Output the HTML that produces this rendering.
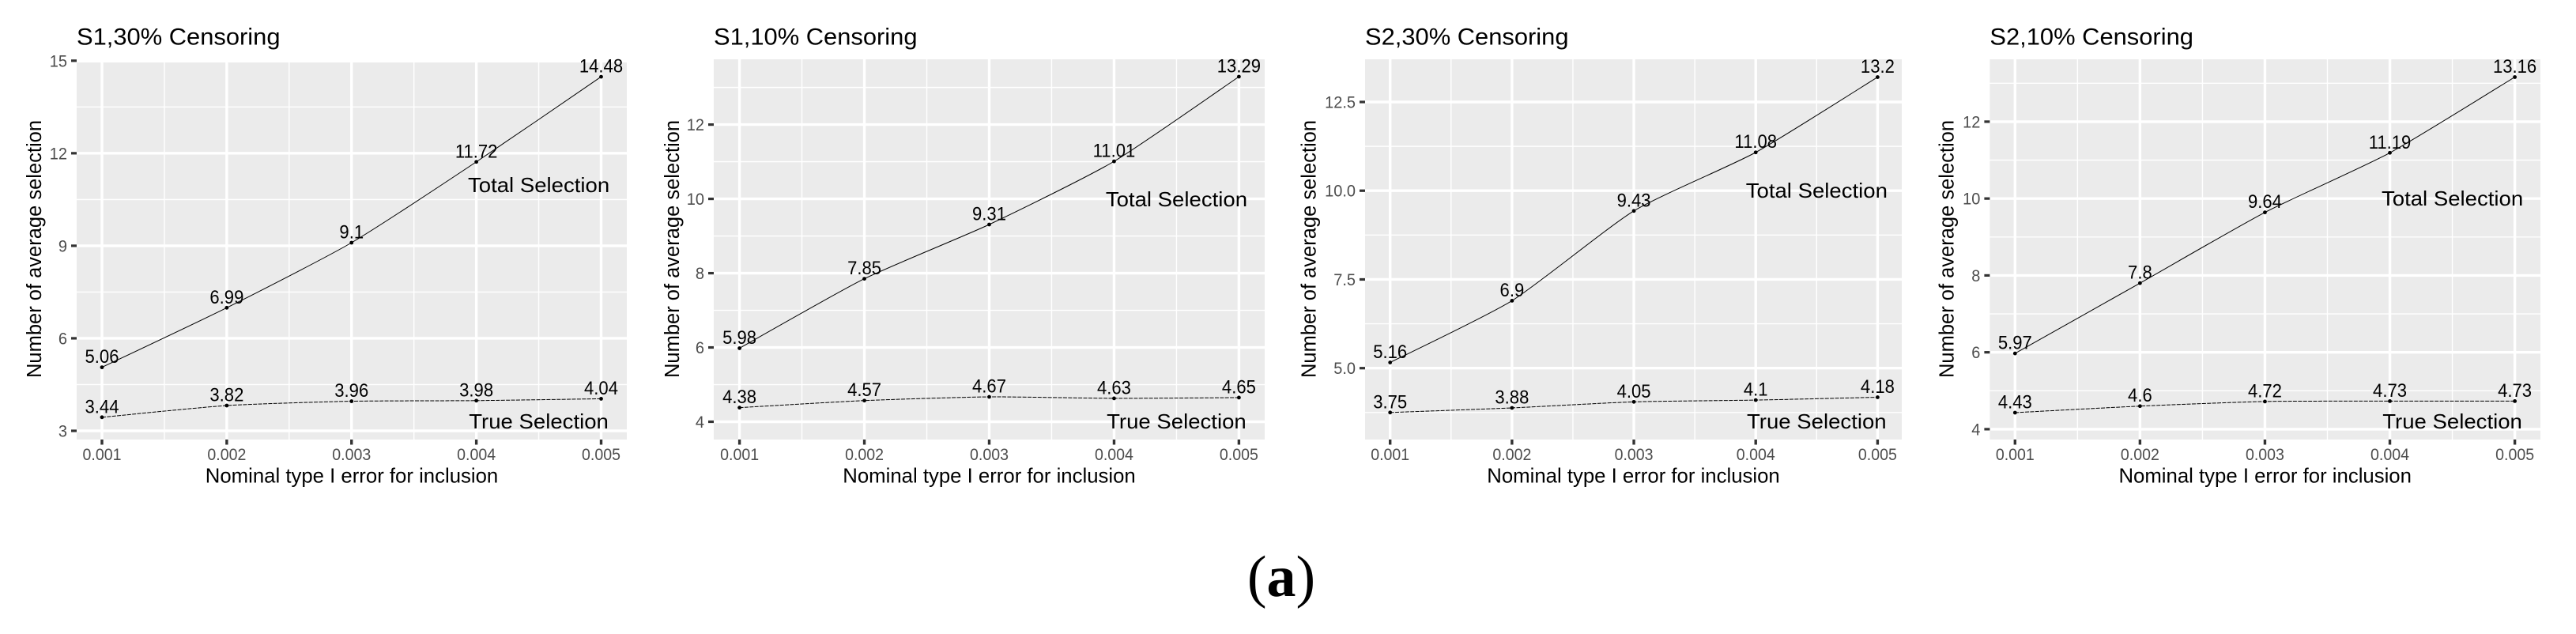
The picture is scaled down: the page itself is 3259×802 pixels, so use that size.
<!DOCTYPE html>
<html lang="en">
<head>
<meta charset="utf-8">
<title>Average selection versus nominal type I error</title>
<style>
html,body{margin:0;padding:0;background:#fff;width:3259px;height:802px;overflow:hidden}
svg{display:block}
text{font-family:"Liberation Sans",sans-serif}
</style>
</head>
<body>
<svg id="figure" xmlns="http://www.w3.org/2000/svg" width="3259" height="802" viewBox="0 0 3259 802">
  <text x="1621" y="754" text-anchor="middle" font-size="74" style="font-family:'Liberation Serif',serif">(<tspan font-weight="bold">a</tspan>)</text>
</svg>
<script>
const categories = [0.001, 0.002, 0.003, 0.004, 0.005];
const xTickLabels = ["0.001", "0.002", "0.003", "0.004", "0.005"];

const s1c30Total = [5.06, 6.99, 9.1, 11.72, 14.48];
const s1c30True = [3.44, 3.82, 3.96, 3.98, 4.04];
const s1c10Total = [5.98, 7.85, 9.31, 11.01, 13.29];
const s1c10True = [4.38, 4.57, 4.67, 4.63, 4.65];
const s2c30Total = [5.16, 6.9, 9.43, 11.08, 13.2];
const s2c30True = [3.75, 3.88, 4.05, 4.1, 4.18];
const s2c10Total = [5.97, 7.8, 9.64, 11.19, 13.16];
const s2c10True = [4.43, 4.6, 4.72, 4.73, 4.73];

const s1c30YTicks = ["3", "6", "9", "12", "15"];
const s1c10YTicks = ["4", "6", "8", "10", "12"];
const s2c30YTicks = ["5.0", "7.5", "10.0", "12.5"];
const s2c10YTicks = ["4", "6", "8", "10", "12"];

const panels = [
  {key:'s1-30', title:'S1,30% Censoring', total:s1c30Total, truth:s1c30True, yTicks:s1c30YTicks,
   left:97, right:793, top:79, bottom:556, xFirst:129, xLast:760.5,
   lowTickPx:545, highTickPx:76.8, yLabelX:52, totalBase:243},
  {key:'s1-10', title:'S1,10% Censoring', total:s1c10Total, truth:s1c10True, yTicks:s1c10YTicks,
   left:903, right:1600, top:75, bottom:556, xFirst:935.6, xLast:1567.4,
   lowTickPx:533.5, highTickPx:157.6, yLabelX:859, totalBase:261},
  {key:'s2-30', title:'S2,30% Censoring', total:s2c30Total, truth:s2c30True, yTicks:s2c30YTicks,
   left:1727, right:2406, top:75, bottom:556, xFirst:1758.7, xLast:2375.4,
   lowTickPx:465.7, highTickPx:129, yLabelX:1664.6, totalBase:250},
  {key:'s2-10', title:'S2,10% Censoring', total:s2c10Total, truth:s2c10True, yTicks:s2c10YTicks,
   left:2517.4, right:3214, top:75, bottom:556, xFirst:2549.3, xLast:3181.6,
   lowTickPx:542.9, highTickPx:153.9, yLabelX:2471.4, totalBase:260}
];

const NS = 'http://www.w3.org/2000/svg';
const root = document.getElementById('figure');

function shape(parent, tag, attrs) {
  const el = document.createElementNS(NS, tag);
  for (const k in attrs) el.setAttribute(k, attrs[k]);
  parent.appendChild(el);
  return el;
}

function label(parent, str, x, y, size, fill, anchor, sx, rotate) {
  const el = document.createElementNS(NS, 'text');
  el.textContent = str;
  el.setAttribute('font-size', size);
  el.setAttribute('fill', fill);
  el.setAttribute('text-anchor', anchor);
  el.setAttribute('transform', 'translate(' + x + ',' + y + ')' + (rotate ? ' rotate(' + rotate + ')' : '') + ' scale(' + sx + ',1)');
  parent.appendChild(el);
  return el;
}

function smoothPath(pts) {
  const k = 0.1;
  let d = 'M' + pts[0][0].toFixed(2) + ' ' + pts[0][1].toFixed(2);
  for (let i = 0; i < pts.length - 1; i++) {
    const a = pts[Math.max(i - 1, 0)];
    const b = pts[i];
    const c = pts[i + 1];
    const e = pts[Math.min(i + 2, pts.length - 1)];
    const c1x = b[0] + (c[0] - a[0]) * k;
    const c1y = b[1] + (c[1] - a[1]) * k;
    const c2x = c[0] - (e[0] - b[0]) * k;
    const c2y = c[1] - (e[1] - b[1]) * k;
    d += 'C' + c1x.toFixed(2) + ' ' + c1y.toFixed(2) + ' ' + c2x.toFixed(2) + ' ' + c2y.toFixed(2) + ' ' + c[0].toFixed(2) + ' ' + c[1].toFixed(2);
  }
  return d;
}

function drawPanel(p) {
  const g = shape(root, 'g', {});
  
  

  const xMin = categories[0];
  const xMax = categories[categories.length - 1];
  const xScale = v => p.xFirst + (v - xMin) / (xMax - xMin) * (p.xLast - p.xFirst);

  const tickVals = p.yTicks.map(parseFloat);
  const yLow = tickVals[0];
  const yHigh = tickVals[tickVals.length - 1];
  const yScale = v => p.lowTickPx + (v - yLow) / (yHigh - yLow) * (p.highTickPx - p.lowTickPx);

  const bg = shape(g, 'rect', {x:p.left, y:p.top, width:p.right - p.left, height:p.bottom - p.top, fill:'#ebebeb'});
  
  

  // minor grid
  const yStep = tickVals[1] - tickVals[0];
  for (let v = yLow - yStep / 2; v <= yHigh + yStep; v += yStep) {
    const py = yScale(v);
    if (py < p.top || py > p.bottom) continue;
    const l = shape(g, 'line', {x1:p.left, x2:p.right, y1:py, y2:py, stroke:'#fff', 'stroke-width':1.4});
    
    
  }
  const xStep = categories[1] - categories[0];
  for (let i = -1; i < categories.length; i++) {
    const px = xScale(xMin + (i + 0.5) * xStep);
    if (px < p.left || px > p.right) continue;
    const l = shape(g, 'line', {x1:px, x2:px, y1:p.top, y2:p.bottom, stroke:'#fff', 'stroke-width':1.4});
    
    
  }

  // major grid, ticks, tick labels
  p.yTicks.forEach(t => {
    const py = yScale(parseFloat(t));
    if (py - 1.7 >= p.top && py + 1.7 <= p.bottom) {
      const l = shape(g, 'line', {x1:p.left, x2:p.right, y1:py, y2:py, stroke:'#fff', 'stroke-width':3.4});
      
      
    }
    const tick = shape(g, 'line', {x1:p.left - 7, x2:p.left, y1:py, y2:py, stroke:'#333', 'stroke-width':3.2});
    
    
    const lab = label(g, t, p.left - 12, py + 7.5, 21.5, '#4d4d4d', 'end', 0.93);
    
    
  });
  categories.forEach((c, i) => {
    const px = xScale(c);
    const l = shape(g, 'line', {x1:px, x2:px, y1:p.top, y2:p.bottom, stroke:'#fff', 'stroke-width':3.4});
    
    
    const tick = shape(g, 'line', {x1:px, x2:px, y1:p.bottom, y2:p.bottom + 6.5, stroke:'#333', 'stroke-width':3.4});
    
    
    const lab = label(g, xTickLabels[i], px, 582, 21.5, '#4d4d4d', 'middle', 0.91);
    
    
  });

  // series lines
  const linePoints = vals => vals.map((v, i) => [xScale(categories[i]), yScale(v)]);
  const totalLine = shape(g, 'path', {d:smoothPath(linePoints(p.total)), fill:'none', stroke:'#000', 'stroke-width':1});
  
  
  const trueLine = shape(g, 'path', {d:smoothPath(linePoints(p.truth)), fill:'none', stroke:'#000', 'stroke-width':1, 'stroke-dasharray':'5 1.4'});
  
  

  // points and value labels
  p.total.forEach((v, i) => {
    const px = xScale(categories[i]), py = yScale(v);
    const dot = shape(g, 'circle', {cx:px, cy:py, r:2.4, fill:'#000'});
    
    
    const lab = label(g, String(v), px, py - 5.5, 24, '#000', 'middle', 0.92);
    
    
  });
  p.truth.forEach((v, i) => {
    const px = xScale(categories[i]), py = yScale(v);
    const dot = shape(g, 'circle', {cx:px, cy:py, r:2.4, fill:'#000'});
    
    
    const lab = label(g, String(v), px, py - 5.5, 24, '#000', 'middle', 0.92);
    
    
  });

  // annotations, titles, axis titles
  const annX = xScale(0.0045);
  const annTotal = label(g, 'Total Selection', annX, p.totalBase, 26, '#000', 'middle', 1.06);
  
  
  const annTrue = label(g, 'True Selection', annX, 542, 26, '#000', 'middle', 1.06);
  
  

  const title = label(g, p.title, p.left, 56.5, 30, '#000', 'start', 1.03);
  
  

  const xTitle = label(g, 'Nominal type I error for inclusion', (p.left + p.right) / 2, 610.5, 25.5, '#000', 'middle', 1.01);
  
  

  const yTitle = label(g, 'Number of average selection', p.yLabelX, 315, 25.5, '#000', 'middle', 1, -90);
  
  
}

panels.forEach(drawPanel);
</script>
</body>
</html>
